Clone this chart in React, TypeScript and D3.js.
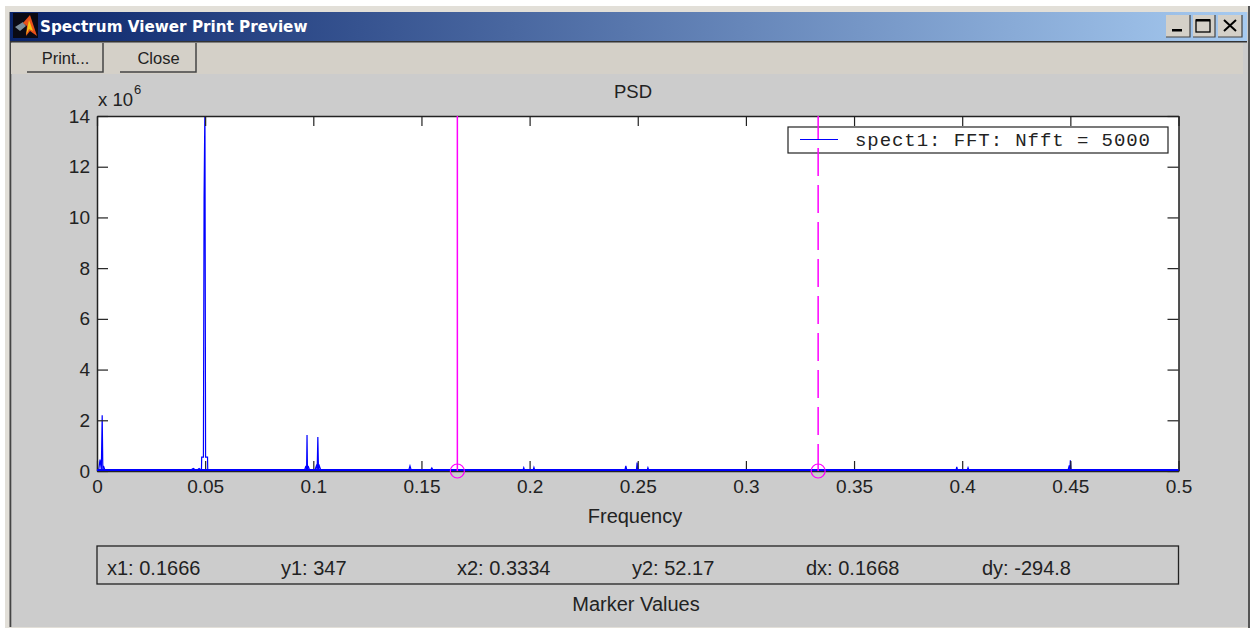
import React, { useEffect, useRef } from "react";
import * as d3 from "d3";

const xTicks = [0, 0.05, 0.1, 0.15, 0.2, 0.25, 0.3, 0.35, 0.4, 0.45, 0.5];
const yTicks = [0, 2, 4, 6, 8, 10, 12, 14];

// PSD in units of 1e6
const freqs = [
  0, 0.0008, 0.0014, 0.002, 0.0024, 0.0027, 0.003, 0.0036,
  0.0435, 0.0445, 0.0455, 0.0465, 0.0472, 0.048,
  0.0483, 0.0484, 0.0492, 0.0495, 0.0499, 0.0502, 0.0511, 0.0512,
  0.096, 0.0966, 0.0969, 0.0971, 0.0973, 0.0976, 0.0982,
  0.1008, 0.1014, 0.1018, 0.1021, 0.1024, 0.1028, 0.1034,
  0.1442, 0.1447, 0.1452, 0.1543, 0.1548, 0.1553,
  0.197, 0.1973, 0.1976, 0.2017, 0.202, 0.2023,
  0.2441, 0.2445, 0.2449, 0.2494, 0.2497, 0.25, 0.2544, 0.2547, 0.255,
  0.3972, 0.3975, 0.3978, 0.4024, 0.4027, 0.403,
  0.449, 0.4495, 0.4498, 0.45, 0.4503, 0.5,
];
const psd = [
  0.05, 0.05, 0.45, 0.05, 2.2, 0.05, 0.2, 0.05,
  0.05, 0.1, 0.05, 0.05, 0.1, 0.05,
  0.05, 0.55, 0.55, 10.8, 14.5, 0.55, 0.55, 0.05,
  0.05, 0.2, 0.05, 1.42, 0.05, 0.2, 0.05,
  0.05, 0.2, 0.05, 1.34, 0.05, 0.2, 0.05,
  0.05, 0.2, 0.05, 0.05, 0.12, 0.05,
  0.05, 0.13, 0.05, 0.05, 0.14, 0.05,
  0.05, 0.2, 0.05, 0.05, 0.33, 0.05, 0.05, 0.13, 0.05,
  0.05, 0.16, 0.05, 0.05, 0.13, 0.05,
  0.05, 0.22, 0.05, 0.42, 0.05, 0.05,
];

const markerFreqs = [0.1666, 0.3334];
const markerLabels = ["x1: 0.1666", "y1: 347", "x2: 0.3334", "y2: 52.17", "dx: 0.1668", "dy: -294.8"];
const markerLabelX = [107, 281, 457, 632, 806, 982];

const W = 1257;
const H = 628;
const plot = { left: 97, right: 1178.5, top: 116, bottom: 471 };
const SANS = "'Liberation Sans', Arial, sans-serif";

function App() {
  const ref = useRef<SVGSVGElement>(null);

  useEffect(() => {
    const svg = d3.select(ref.current);
    svg.selectAll("*").remove();

    const x = d3.scaleLinear().domain([0, 0.5]).range([plot.left, plot.right]);
    const y = d3.scaleLinear().domain([0, 14]).range([plot.bottom, plot.top]);

    // Window chrome
    svg.append("rect").attr("width", W).attr("height", H).attr("fill", "#ffffff");
    svg.append("rect").attr("x", 5).attr("y", 6).attr("width", 1245).attr("height", 622).attr("fill", "#e2dfd8");
    svg.append("rect").attr("x", 10).attr("y", 12).attr("width", 1238).attr("height", 615).attr("fill", "#cccccc");
    svg.append("rect").attr("x", 9.5).attr("y", 12).attr("width", 1.8).attr("height", 615).attr("fill", "#444444");
    svg.append("rect").attr("x", 1248).attr("y", 6).attr("width", 2).attr("height", 622).attr("fill", "#555555");

    const defs = svg.append("defs");
    const grad = defs.append("linearGradient").attr("id", "titlebar");
    grad.append("stop").attr("offset", "0%").attr("stop-color", "#0a246a");
    grad.append("stop").attr("offset", "100%").attr("stop-color", "#a6caf0");
    svg.append("rect").attr("x", 10).attr("y", 12).attr("width", 1237).attr("height", 29).attr("fill", "url(#titlebar)");
    svg.append("rect").attr("x", 10).attr("y", 41).attr("width", 1237).attr("height", 1.5).attr("fill", "#333333");
    svg.append("rect").attr("x", 11).attr("y", 43).attr("width", 1232).attr("height", 31).attr("fill", "#d4d0c8");

    // MATLAB style icon
    svg.append("rect").attr("x", 13).attr("y", 13).attr("width", 25).attr("height", 25).attr("fill", "#0a0a14");
    svg.append("path").attr("d", "M15 27 L23 22 L26 26 L20 31 Z").attr("fill", "#7d8f9a");
    svg.append("path").attr("d", "M23 23 L30 15 L37 36 L30 31 L26 36 L27 26 Z").attr("fill", "#e8501a");
    svg.append("path").attr("d", "M29 20 L33 31 L29 29 L26 35 Z").attr("fill", "#f6c511");

    svg.append("text").text("Spectrum Viewer Print Preview")
      .attr("x", 40).attr("y", 32).attr("fill", "#ffffff")
      .attr("font-family", "'DejaVu Sans', sans-serif").attr("font-weight", "bold").attr("font-size", 15.2);

    // Title bar buttons
    const winButtons = [{ x: 1166, w: 24 }, { x: 1193, w: 22 }, { x: 1218, w: 24 }];
    winButtons.forEach((b) => {
      svg.append("rect").attr("x", b.x).attr("y", 15).attr("width", b.w).attr("height", 22).attr("fill", "#d4d0c8");
      svg.append("path").attr("d", `M${b.x + b.w} 15 V37 H${b.x}`).attr("fill", "none").attr("stroke", "#444").attr("stroke-width", 1.2);
    });
    svg.append("rect").attr("x", 1172).attr("y", 29).attr("width", 10).attr("height", 2.5).attr("fill", "#000");
    svg.append("rect").attr("x", 1196).attr("y", 20).attr("width", 14).attr("height", 12).attr("fill", "none")
      .attr("stroke", "#000").attr("stroke-width", 1.3);
    svg.append("rect").attr("x", 1196).attr("y", 19).attr("width", 14).attr("height", 2.5).attr("fill", "#000");
    svg.append("path").attr("d", "M1224 20 L1236 31 M1236 20 L1224 31").attr("stroke", "#000").attr("stroke-width", 2);

    // Print / Close buttons
    const buttons = [{ label: "Print...", x: 27 }, { label: "Close", x: 120 }];
    buttons.forEach((b) => {
      svg.append("rect").attr("x", b.x).attr("y", 43).attr("width", 76).attr("height", 29).attr("fill", "#d4d0c8");
      svg.append("path").attr("d", `M${b.x + 76} 43 V72 H${b.x}`).attr("fill", "none").attr("stroke", "#444").attr("stroke-width", 1.5);
      svg.append("text").text(b.label).attr("x", b.x + 38.5).attr("y", 64).attr("text-anchor", "middle")
        .attr("font-family", SANS).attr("font-size", 16.5).attr("fill", "#222");
    });

    // Plot background
    svg.append("rect").attr("x", plot.left).attr("y", plot.top)
      .attr("width", plot.right - plot.left).attr("height", plot.bottom - plot.top).attr("fill", "#ffffff");

    // Spectrum, clipped to the axes
    defs.append("clipPath").attr("id", "plot-clip").append("rect")
      .attr("x", plot.left).attr("y", plot.top)
      .attr("width", plot.right - plot.left).attr("height", plot.bottom - plot.top);

    const line = d3.line<number>().x((_, i) => x(freqs[i])).y((d) => y(d));
    svg.append("path").datum(psd).attr("d", line).attr("fill", "none")
      .attr("stroke", "#0000ff").attr("stroke-width", 1.2).attr("clip-path", "url(#plot-clip)");

    // Axes with inward ticks, mirrored on the far sides
    const styleAxis = (g: any) => {
      g.selectAll("path").attr("stroke", "#222").attr("stroke-width", 1.5);
      g.selectAll("line").attr("stroke", "#222").attr("stroke-width", 1.2);
      g.selectAll("text").attr("font-family", SANS).attr("font-size", 19).attr("fill", "#222");
    };
    const bottom = svg.append("g").attr("transform", `translate(0,${plot.bottom})`)
      .call(d3.axisBottom(x).tickValues(xTicks).tickFormat((d) => String(d)).tickSizeInner(-10).tickSizeOuter(0).tickPadding(9) as any);
    styleAxis(bottom);
    const left = svg.append("g").attr("transform", `translate(${plot.left},0)`)
      .call(d3.axisLeft(y).tickValues(yTicks).tickFormat((d) => String(d)).tickSizeInner(-11).tickSizeOuter(0).tickPadding(7) as any);
    styleAxis(left);
    const top = svg.append("g").attr("transform", `translate(0,${plot.top})`)
      .call(d3.axisTop(x).tickValues(xTicks).tickFormat(() => "").tickSizeInner(-10).tickSizeOuter(0) as any);
    styleAxis(top);
    const right = svg.append("g").attr("transform", `translate(${plot.right},0)`)
      .call(d3.axisRight(y).tickValues(yTicks).tickFormat(() => "").tickSizeInner(-11).tickSizeOuter(0) as any);
    styleAxis(right);

    // Baseline runs just above the axis
    svg.append("line").attr("x1", plot.left).attr("x2", plot.right).attr("y1", y(0) - 1).attr("y2", y(0) - 1)
      .attr("stroke", "#0000ff").attr("stroke-width", 2);

    // Legend box
    svg.append("rect").attr("x", 788).attr("y", 127).attr("width", 380).attr("height", 26)
      .attr("fill", "#ffffff").attr("stroke", "#222").attr("stroke-width", 1.2);
    svg.append("text").text("spect1: FFT: Nfft = 5000").attr("x", 855).attr("y", 146)
      .attr("font-family", "'Liberation Mono', 'DejaVu Sans Mono', monospace").attr("font-size", 19)
      .attr("textLength", 295).attr("fill", "#222");

    // Markers
    markerFreqs.forEach((f, i) => {
      svg.append("line").attr("x1", x(f)).attr("x2", x(f)).attr("y1", plot.top).attr("y2", plot.bottom)
        .attr("stroke", "#ff00ff").attr("stroke-width", 1.5)
        .attr("stroke-dasharray", i === 1 ? "28 9" : null)
        .attr("stroke-dashoffset", i === 1 ? 5 : null);
      svg.append("circle").attr("cx", x(f)).attr("cy", plot.bottom).attr("r", 7)
        .attr("fill", "none").attr("stroke", "#ff00ff").attr("stroke-width", 1.2);
    });

    // Legend sample goes over the marker line
    svg.append("line").attr("x1", 800).attr("x2", 838).attr("y1", 139.5).attr("y2", 139.5)
      .attr("stroke", "#0000ff").attr("stroke-width", 1.2);

    // Labels
    const label = (t: string, lx: number, ly: number, anchor = "middle", size = 20) =>
      svg.append("text").text(t).attr("x", lx).attr("y", ly).attr("text-anchor", anchor)
        .attr("font-family", SANS).attr("font-size", size).attr("fill", "#222");

    label("PSD", 633, 98, "middle", 18.5);
    label("Frequency", 635, 523);
    label("x 10", 98, 106, "start", 18.5);
    label("6", 134, 94, "start", 13);

    // Marker values panel
    svg.append("rect").attr("x", 97).attr("y", 546).attr("width", 1081.5).attr("height", 38)
      .attr("fill", "none").attr("stroke", "#222").attr("stroke-width", 1.3);
    markerLabels.forEach((t, i) => label(t, markerLabelX[i], 575, "start"));
    label("Marker Values", 636, 611);
  }, []);

  return (
    <svg ref={ref} width={W} height={H} style={{ position: "absolute", left: 0, top: 0 }} />
  );
}

export default App;
